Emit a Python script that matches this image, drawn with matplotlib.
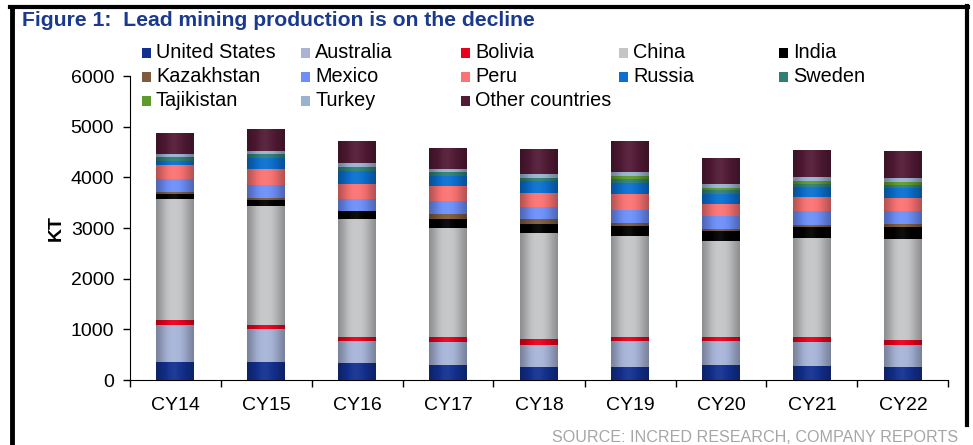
import numpy as np
import matplotlib
matplotlib.use("Agg")
import matplotlib.pyplot as plt
from matplotlib.patches import Rectangle
from matplotlib.lines import Line2D
from matplotlib.colors import LinearSegmentedColormap, to_rgb

plt.rcParams["font.family"] = ["Liberation Sans", "DejaVu Sans"]

years = ["CY14", "CY15", "CY16", "CY17", "CY18", "CY19", "CY20", "CY21", "CY22"]

countries = ["United States", "Australia", "Bolivia", "China", "India",
             "Kazakhstan", "Mexico", "Peru", "Russia", "Sweden",
             "Tajikistan", "Turkey", "Other countries"]

# production in KT
united_states = [362, 362, 336, 297, 257, 257, 297, 277, 257]
australia = [725, 646, 442, 454, 435, 514, 474, 474, 435]
bolivia = [99, 79, 72, 99, 119, 79, 79, 99, 99]
china = [2392, 2340, 2333, 2155, 2095, 1997, 1898, 1957, 1997]
india = [99, 132, 158, 178, 178, 198, 198, 218, 237]
kazakhstan = [40, 40, 0, 99, 99, 59, 39, 39, 59]
mexico = [257, 257, 237, 257, 237, 257, 257, 277, 257]
peru = [277, 316, 297, 296, 277, 316, 238, 277, 257]
russia = [79, 218, 257, 198, 237, 218, 197, 198, 198]
sweden = [79, 79, 79, 79, 60, 79, 79, 59, 59]
tajikistan = [0, 0, 0, 0, 0, 59, 40, 59, 59]
turkey = [59, 59, 79, 59, 79, 79, 79, 79, 80]
other = [395, 415, 415, 396, 474, 593, 494, 514, 533]

series = [united_states, australia, bolivia, china, india, kazakhstan, mexico,
          peru, russia, sweden, tajikistan, turkey, other]

colors = ["#12308f", "#a7b4d8", "#e8001c", "#c4c5c7", "#000000",
          "#7d5b3c", "#6c8ef8", "#fa7272", "#0a6fd0", "#2f7f74",
          "#5e9a2c", "#98b2cf", "#521a35"]


def shade(c, f):
    r = np.array(to_rgb(c))
    if f < 1:
        return tuple(r * f)
    return tuple(r + (1 - r) * (f - 1))


fig = plt.figure(figsize=(9.73, 4.45), dpi=100)
ax = fig.add_axes([129.5 / 973, 0.146, 819 / 973, 0.683])

x = np.arange(len(years))
width = 0.41
bottom = np.zeros(len(years))
profile = np.array([0.72, 0.82, 0.95, 1.04, 1.06, 1.02, 0.93, 0.82, 0.72])
for vals, col in zip(series, colors):
    vals = np.array(vals, dtype=float)
    bars = ax.bar(x, vals, width, bottom=bottom, color=col, linewidth=0, zorder=2)
    cmap = LinearSegmentedColormap.from_list(
        "g", [shade(col, f) for f in profile])
    grad = np.linspace(0, 1, 64).reshape(1, -1)
    for b in bars:
        if b.get_height() <= 0:
            continue
        x0, y0 = b.get_x(), b.get_y()
        ax.imshow(grad, cmap=cmap, aspect="auto", interpolation="bilinear",
                  extent=(x0, x0 + b.get_width(), y0, y0 + b.get_height()),
                  zorder=3)
    bottom += vals

ax.set_xlim(-0.5, len(years) - 0.5)
ax.set_ylim(0, 6000)
ax.set_yticks(np.arange(0, 6001, 1000))
ax.set_xticks(x)
ax.set_xticklabels(years, fontsize=14)
ax.set_xticks(np.arange(-0.5, len(years), 1), minor=True)
ax.tick_params(axis="x", which="major", length=0, pad=12)
ax.tick_params(axis="x", which="minor", length=5, width=1, direction="out")
ax.tick_params(axis="y", length=5, width=1, labelsize=14, pad=6)
ax.spines["top"].set_visible(False)
ax.spines["right"].set_visible(False)
ax.set_ylabel("KT", fontsize=14, fontweight="bold", labelpad=4)

# legend drawn as a grid
leg_cols = [147, 306, 466, 624, 784]
leg_rows = [53, 77, 101]
for i, (name, col) in enumerate(zip(countries, colors)):
    r, c = divmod(i, 5)
    px, py = leg_cols[c], leg_rows[r]
    fig.patches.append(Rectangle(((px - 5) / 973, 1 - (py + 5) / 445), 9 / 973, 10 / 445,
                                 transform=fig.transFigure, facecolor=col,
                                 edgecolor="none"))
    fig.text((px + 9) / 973, 1 - py / 445, name, fontsize=14.3, va="center", ha="left")

fig.text(22 / 973, 1 - 20 / 445, "Figure 1:  Lead mining production is on the decline",
         fontsize=15.2, fontweight="bold", color="#1a3a8f", va="center", ha="left")
fig.text(958 / 973, 1 - 437 / 445, "SOURCE: INCRED RESEARCH, COMPANY REPORTS",
         fontsize=11.6, color="#a6a6a6", va="center", ha="right")

# frame
fig.add_artist(Line2D([12 / 973, 12 / 973], [0, 1 - 7 / 445], color="black",
                      linewidth=3.5, transform=fig.transFigure))
fig.add_artist(Line2D([10 / 973, 968 / 973], [1 - 7 / 445, 1 - 7 / 445], color="black",
                      linewidth=3, transform=fig.transFigure))
fig.add_artist(Line2D([967 / 973, 967 / 973], [1 - 425 / 445, 1 - 6 / 445], color="black",
                      linewidth=3, transform=fig.transFigure))

fig.savefig("out.png", dpi=100)
